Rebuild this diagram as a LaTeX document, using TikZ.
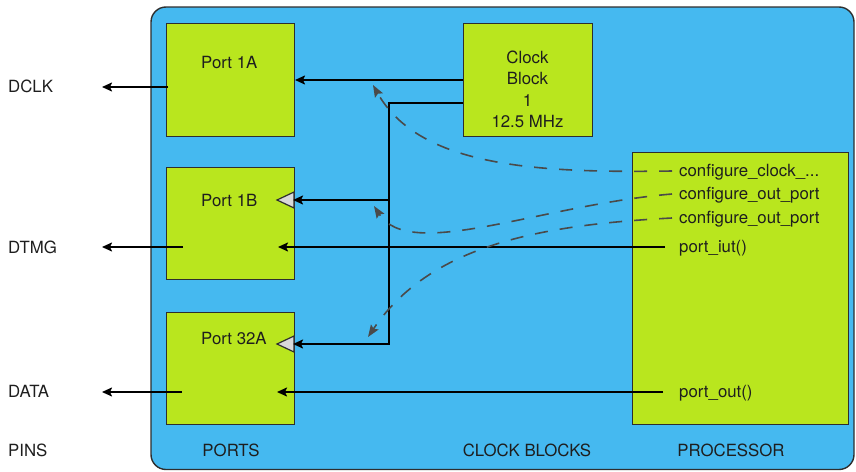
\documentclass[tikz,border=0pt]{standalone}
\usepackage{fontspec}
\setmainfont{TeX Gyre Heros}
\usetikzlibrary{arrows.meta}
\definecolor{panel}{HTML}{45B9F0}
\definecolor{block}{HTML}{B9E61E}
\definecolor{edge}{HTML}{2E2E2E}
\definecolor{ink}{HTML}{1E1E1E}
\definecolor{signal}{HTML}{4A4A4A}
\definecolor{tick}{HTML}{D9D9D9}

\begin{document}
\begin{tikzpicture}[x=1pt,y=-1pt,
  every node/.style={font=\fontsize{16.8}{20}\selectfont, text=ink},
  unit/.style={draw=edge, line width=1.4pt, fill=block, anchor=north west, inner sep=0pt},
  txt/.style={anchor=base west, inner sep=0pt},
  ctxt/.style={anchor=base, inner sep=0pt},
  wire/.style={draw=black, line width=1.8pt, -{Stealth[length=10pt,width=9pt,inset=2pt]}},
  call/.style={draw=signal, line width=1.6pt, dash pattern=on 13pt off 12pt,
               -{Stealth[length=12pt,width=9pt,inset=2pt]}},
  clk/.style={draw=edge, line width=1.2pt, fill=tick, line join=miter}
]
\useasboundingbox (0,0) rectangle (856,471);

% device panel
\draw[fill=panel, draw=edge, line width=1.4pt, rounded corners=15pt] (151,7) rectangle (854,469.5);

% blocks
\node[unit, minimum width=128pt, minimum height=113pt] (p1a)  at (166,23)  {};
\node[unit, minimum width=128pt, minimum height=112pt] (p1b)  at (166,167) {};
\node[unit, minimum width=128pt, minimum height=112pt] (p32a) at (166,312) {};
\node[unit, minimum width=129pt, minimum height=113pt] (clock) at (463,23) {};
\node[unit, minimum width=216pt, minimum height=272pt] (proc) at (632,152) {};

% block titles
\node[txt] (t1a)  at (201,68)  {Port 1A};
\node[txt] (t1b)  at (201,206) {Port 1B};
\node[txt] (t32a) at (201,344) {Port 32A};
\node[ctxt] (ck1) at (527.5,63)  {Clock};
\node[ctxt] (ck2) at (527.5,84)  {Block};
\node[ctxt] (ck3) at (527.5,106) {1};
\node[ctxt] (ck4) at (527.5,127) {12.5 MHz};

% processor entry points
\node[txt] (f1) at (679,176.5) {configure\_clock\_...};
\node[txt] (f2) at (679,199.5) {configure\_out\_port};
\node[txt] (f3) at (679,223.5) {configure\_out\_port};
\node[txt] (f4) at (679,252.5) {port\_iut()};
\node[txt] (f5) at (679,397)   {port\_out()};

% pin names and column captions
\node[txt] (dclk) at (8,92)  {DCLK};
\node[txt] (dtmg) at (8,253) {DTMG};
\node[txt] (data) at (8,397) {DATA};
\node[txt] (pins) at (8,456) {PINS};
\node[ctxt] (cports) at (231,456) {PORTS};
\node[ctxt] (cclock) at (527,456) {CLOCK BLOCKS};
\node[ctxt] (cproc)  at (731,456) {PROCESSOR};

% connector end points
\coordinate (o1a)  at (168,87);
\coordinate (o1b)  at (183,247);
\coordinate (o32a) at (182,392);
\coordinate (pin1) at (102,87);
\coordinate (pin2) at (102,247);
\coordinate (pin3) at (102,392);
\coordinate (ck0)  at (463,80);
\coordinate (ckb)  at (463,103);
\coordinate (bendA) at (389,103);
\coordinate (bendB) at (389,344);
\coordinate (tapB)  at (389,200);
\coordinate (in1a)  at (295,80);
\coordinate (in1b)  at (293,200);
\coordinate (in32a) at (293,344);
\coordinate (sIut) at (665,247);
\coordinate (dIut) at (278,247);
\coordinate (sOut) at (663,392);
\coordinate (dOut) at (277,392);
\coordinate (s1) at (672,171);
\coordinate (s2) at (672,194);
\coordinate (s3) at (672,218);
\coordinate (e1) at (373,85);
\coordinate (e2) at (374,206);
\coordinate (e3) at (368,337);

% clock input markers
\filldraw[clk] (294,192) -- (277,200) -- (294,208) -- cycle;
\filldraw[clk] (294,336) -- (277,344) -- (294,352) -- cycle;

% port outputs to pins
\draw[wire] (o1a) -- (pin1);
\draw[wire] (o1b) -- (pin2);
\draw[wire] (o32a) -- (pin3);

% clock distribution
\draw[wire] (ck0) -- (in1a);
\draw[wire] (ckb) -- (bendA) -- (bendB) -- (in32a);
\draw[wire] (tapB) -- (in1b);

% data from processor
\draw[wire] (sIut) -- (dIut);
\draw[wire] (sOut) -- (dOut);

% configuration calls
\draw[call] (s1) .. controls (540,173) and (420,168) .. (e1);
\draw[call] (s2) .. controls (540,205) and (410,262) .. (e2);
\draw[call] (s3) .. controls (540,225) and (430,245) .. (e3);
\end{tikzpicture}
\end{document}
